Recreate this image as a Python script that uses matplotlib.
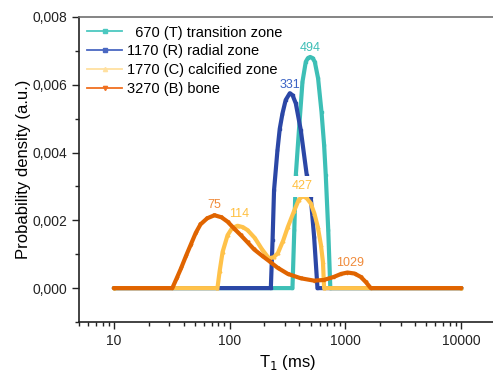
import matplotlib
matplotlib.use("Agg")
import matplotlib.pyplot as plt
from matplotlib.lines import Line2D
from matplotlib.ticker import FuncFormatter, LogLocator, MultipleLocator, NullFormatter

plt.rcParams['font.family'] = ['Liberation Sans', 'DejaVu Sans']

# ---------------- data ----------------
labels = ["  670 (T) transition zone", "1170 (R) radial zone",
          "1770 (C) calcified zone", "3270 (B) bone"]

t_T = [10, 349, 362, 373, 398, 426, 455, 475, 496, 520, 544, 581, 622, 655, 677, 711, 741, 10000]
v_T = [0, 0, 0.00171, 0.00333, 0.00471, 0.00609, 0.00668, 0.00679, 0.00682, 0.00679,
       0.00668, 0.00619, 0.0052, 0.00422, 0.00333, 0.00171, 0, 0]

t_R = [10, 227, 235, 242, 259, 271, 286, 305, 331, 350, 373, 412, 464, 502, 537, 574, 10000]
v_R = [0, 0, 0.00142, 0.00289, 0.00407, 0.0047, 0.00515, 0.00555, 0.00575, 0.00569,
       0.00545, 0.00466, 0.00333, 0.00269, 0.00151, 0, 0]

t_C = [10, 78.5, 82, 87, 96, 105, 117, 130, 143, 165, 190, 218, 240, 261, 290, 318, 360,
       395, 427, 465, 502, 540, 578, 615, 640, 655, 10000]
v_C = [0, 0, 0.0005, 0.00107, 0.00156, 0.00177, 0.00184, 0.0018, 0.00171, 0.00148, 0.00115,
       0.00088, 0.00091, 0.00103, 0.0014, 0.0018, 0.00227, 0.0026, 0.00272, 0.00265, 0.0025,
       0.0022, 0.0018, 0.00127, 0.00077, 0, 0]

t_B = [10, 32, 35, 38, 42, 46, 51, 56, 64, 74, 85, 96, 110, 125, 143, 163, 190, 219, 260,
       318, 412, 537, 650, 794, 920, 1042, 1200, 1358, 1500, 1657, 10000]
v_B = [0, 0, 0.0003, 0.00058, 0.00095, 0.00127, 0.00163, 0.00188, 0.00206, 0.00215, 0.00209,
       0.00196, 0.00175, 0.00156, 0.00135, 0.00114, 0.00096, 0.0008, 0.0006, 0.00042, 0.00029,
       0.00022, 0.00024, 0.00033, 0.00042, 0.00046, 0.00043, 0.00033, 0.00018, 0, 0]

peak_labels = [494, 331, 427, 114, 75, 1029]
peak_heights = [0.00682, 0.00575, 0.00272, 0.00184, 0.00215, 0.00046]

xticks = [10, 100, 1000, 10000]
yticks = [0.0, 0.002, 0.004, 0.006, 0.008]

# ---------------- style ----------------
line_colors = ['#3dbfb6', '#2b47a6', '#ffc24a', '#e06400']
legend_colors = ['#4cc8c0', '#4a68c2', '#ffe0a0', '#f07020']
markers = ['s', 's', '^', 'v']
peak_colors = ['#3dbfb6', '#3a62c4', '#ffc040', '#ffc040', '#f08a3a', '#f08a3a']
peak_offsets = [(0, 6.3), (0, 5.8), (0, 7.0), (1.9, 8.4), (-0.5, 7.2), (2.2, 7.0)]

fig = plt.figure(figsize=(4.93, 3.71), dpi=100)
ax = fig.add_axes([79/493, 49/371, 417/493, 305/371])

series = [(t_T, v_T), (t_R, v_R), (t_C, v_C), (t_B, v_B)]
for i, (t, v) in enumerate(series):
    ax.plot(t, v, color=line_colors[i], lw=3.0, marker=markers[i], ms=2.0,
            solid_capstyle='round', zorder=2 + i)

for i, (lab, h) in enumerate(zip(peak_labels, peak_heights)):
    kw = {}
    if lab == 427:
        kw['bbox'] = dict(boxstyle='square,pad=0.35', fc='white', ec='none')
    ax.annotate(str(lab), xy=(lab, h), xytext=peak_offsets[i], textcoords='offset points',
                ha='center', va='center', fontsize=9, color=peak_colors[i], zorder=10, **kw)

ax.set_xscale('log')
ax.set_xlim(5, 20000)
ax.set_ylim(-0.001, 0.008)
ax.set_xticks(xticks)
ax.set_xticklabels([str(x) for x in xticks])
ax.xaxis.set_minor_locator(LogLocator(base=10, subs=range(2, 10), numticks=20))
ax.xaxis.set_minor_formatter(NullFormatter())
ax.set_yticks(yticks)
ax.yaxis.set_major_formatter(FuncFormatter(lambda y, p: f"{y:.3f}".replace('.', ',')))
ax.yaxis.set_minor_locator(MultipleLocator(0.001))

ax.tick_params(which='major', direction='out', length=5, width=1, labelsize=10, colors='#222222')
ax.tick_params(which='minor', direction='out', length=3, width=1, colors='#222222')
for s in ['left', 'bottom']:
    ax.spines[s].set_color('#222222')
    ax.spines[s].set_linewidth(1.2)
ax.spines['top'].set_color('#707070')
ax.spines['top'].set_linewidth(1.2)
ax.spines['right'].set_visible(False)

ax.set_xlabel('T$_1$ (ms)', fontsize=12, labelpad=4)
ax.set_ylabel('Probability density (a.u.)', fontsize=12, labelpad=1)

handles = [Line2D([], [], color=legend_colors[i], lw=1.3, marker=markers[i], ms=3)
           for i in range(4)]
ax.legend(handles, labels, loc='upper left', bbox_to_anchor=(0.02, 0.972), frameon=False,
          fontsize=10.5, handlelength=2.4, handletextpad=0.3, labelspacing=0.33,
          borderpad=0, borderaxespad=0)

fig.savefig('out.png', dpi=100)
